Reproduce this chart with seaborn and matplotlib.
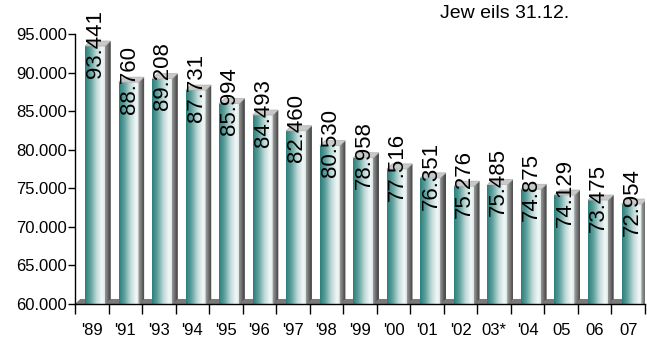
import numpy as np
import matplotlib
matplotlib.use("Agg")
import matplotlib.pyplot as plt
import seaborn as sns
from matplotlib.patches import Polygon
from matplotlib.colors import LinearSegmentedColormap
from matplotlib.ticker import FuncFormatter, FixedLocator

years = ["'89", "'91", "'93", "'94", "'95", "'96", "'97", "'98", "'99", "'00",
         "'01", "'02", "03*", "'04", "05", "06", "07"]
values = [93441, 88760, 89208, 87731, 85994, 84493, 82460, 80530, 78958, 77516,
          76351, 75276, 75485, 74875, 74129, 73475, 72954]
value_labels = [f"{v:,}".replace(",", ".") for v in values]
note = "Jew eils 31.12."

sns.set_theme(style="white")
plt.rcParams['font.family'] = ['Liberation Sans', 'DejaVu Sans']

fig = plt.figure(figsize=(6.47, 3.40), dpi=100)
ax = fig.add_axes([75/647, 1-304/340, 570/647, 270/340])

ymin, ymax = 60000, 95000
sns.barplot(x=years, y=values, color="#2a7f7c", width=0.6, ax=ax, zorder=2)
ax.set_ylim(ymin, ymax)
ax.set_xlim(-0.5, len(years) - 0.5)

# 3D depth in data units
dx, dy = 0.16, 650
shift = 0.1

# floor
x0, x1 = ax.get_xlim()
floor = Polygon([(x0, ymin), (x1, ymin), (x1 + dx, ymin + dy), (x0 + dx, ymin + dy)],
                closed=True, facecolor="#7a7a7a", edgecolor="none", zorder=1)
ax.add_patch(floor)

front_cmap = LinearSegmentedColormap.from_list(
    "front", [(0.0, "#2b7e7b"), (0.25, "#5c9f9c"), (0.55, "#bfd9d7"),
              (0.82, "#f3f8f8"), (1.0, "#d5dfdf")])
side_cmap = LinearSegmentedColormap.from_list(
    "side", [(0.0, "#9a9a9a"), (0.5, "#6a6a6a"), (1.0, "#3a3a3a")])
grad = np.linspace(0, 1, 256).reshape(1, -1)

for patch, lab in zip(ax.patches[:len(values)], value_labels):
    patch.set_x(patch.get_x() + shift)
    xl = patch.get_x()
    w = patch.get_width()
    h = patch.get_height()
    patch.set_facecolor("none")
    patch.set_edgecolor("none")
    im = ax.imshow(grad, cmap=front_cmap, aspect="auto",
                   extent=(xl, xl + w, ymin, h), zorder=3)
    im.set_clip_path(patch)
    # side face
    side = Polygon([(xl + w, ymin), (xl + w + dx, ymin + dy),
                    (xl + w + dx, h + dy), (xl + w, h)],
                   closed=True, facecolor="#6f6f6f", edgecolor="none", zorder=3)
    ax.add_patch(side)
    ims = ax.imshow(grad, cmap=side_cmap, aspect="auto",
                    extent=(xl + w, xl + w + dx, ymin, h + dy), zorder=3)
    ims.set_clip_path(side)
    # top face
    top = Polygon([(xl, h), (xl + w, h), (xl + w + dx, h + dy), (xl + dx, h + dy)],
                  closed=True, facecolor="#c9c9c9", edgecolor="#b0b0b0",
                  linewidth=0.5, zorder=4)
    ax.add_patch(top)
    ax.text(xl + w / 2 + 0.02, h + 300, lab, rotation=90, ha="center", va="center",
            fontsize=16, color="black", zorder=6, clip_on=False)

# axes styling
for s in ["top", "right"]:
    ax.spines[s].set_visible(False)
for s in ["left", "bottom"]:
    ax.spines[s].set_color("black")
    ax.spines[s].set_linewidth(1.0)
    ax.spines[s].set_zorder(5)

ax.yaxis.set_major_locator(FixedLocator(np.arange(60000, 95001, 5000)))
ax.yaxis.set_major_formatter(FuncFormatter(lambda v, p: f"{v:,.0f}".replace(",", ".")))
ax.tick_params(axis="y", which="major", left=True, length=5, width=1, color="black",
               labelsize=12, pad=1, labelcolor="black")
ax.set_xticks(range(len(years)))
ax.set_xticklabels(years)
ax.set_xticks(np.arange(-0.5, len(years), 1), minor=True)
ax.tick_params(axis="x", which="major", bottom=False, labelsize=12, pad=8,
               labelcolor="black")
ax.tick_params(axis="x", which="minor", bottom=True, length=7, width=1, color="black")
ax.set_xlabel("")
ax.set_ylabel("")
ax.grid(False)

fig.text(440/647, 1 - 18/340, note, fontsize=14, ha="left", va="baseline",
         color="black")

fig.savefig("out.png", dpi=100)
